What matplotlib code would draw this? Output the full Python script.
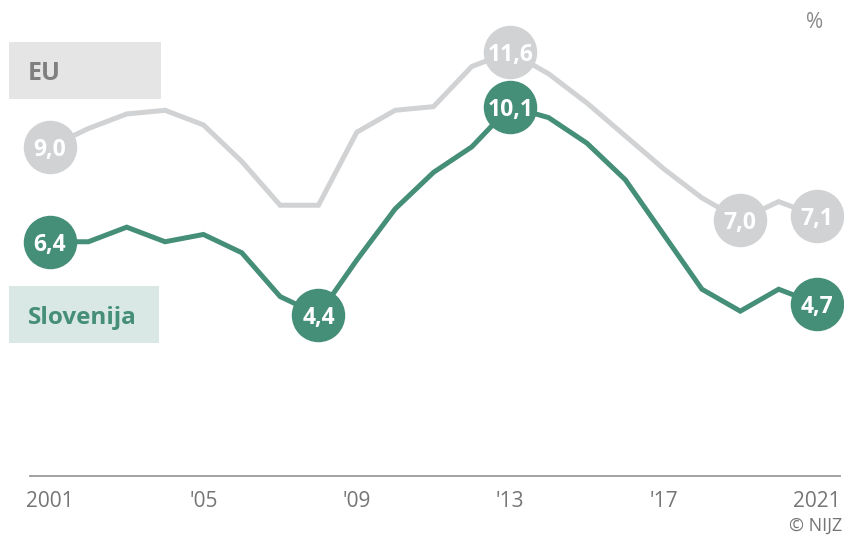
import matplotlib
matplotlib.use("Agg")
import matplotlib.pyplot as plt
from matplotlib.patches import Rectangle

plt.rcParams['font.family'] = ['Open Sans', 'DejaVu Sans']

years = list(range(2001, 2022))
eu = [9.0, 9.5, 9.9, 10.0, 9.6, 8.6, 7.4, 7.4, 9.4, 10.0, 10.1, 11.2, 11.6,
      11.0, 10.2, 9.3, 8.4, 7.6, 7.0, 7.5, 7.1]
slo = [6.4, 6.4, 6.8, 6.4, 6.6, 6.1, 4.9, 4.4, 5.9, 7.3, 8.3, 9.0, 10.1,
       9.8, 9.1, 8.1, 6.6, 5.1, 4.5, 5.1, 4.7]
eu_marked = [2001, 2013, 2019, 2021]
slo_marked = [2001, 2008, 2013, 2021]
tick_years = [2001, 2005, 2009, 2013, 2017, 2021]
tick_labels = ['2001', "'05", "'09", "'13", "'17", '2021']

GREEN = '#458E77'
GREY = '#D1D2D4'

W, H = 845, 536
fig = plt.figure(figsize=(W / 100, H / 100), dpi=100)
ax = fig.add_axes([30 / W, (H - 475.5) / H, 810 / W, 475.5 / H])
ax.set_xlim(2000.478, 2021.60)
ax.set_ylim(0, 13.02)

for s in ['top', 'left', 'right']:
    ax.spines[s].set_visible(False)
ax.spines['bottom'].set_color('#9a9a9a')
ax.spines['bottom'].set_linewidth(1.3)
ax.set_yticks([])
ax.set_xticks(tick_years)
ax.set_xticklabels(tick_labels)
ax.tick_params(axis='x', length=0, pad=11, labelsize=15, labelcolor='#757575')
ax.patch.set_alpha(0)

ax.plot(years, eu, color=GREY, lw=3.6, solid_joinstyle='miter', zorder=2)
ax.plot(years, slo, color=GREEN, lw=3.6, solid_joinstyle='miter', zorder=3)

def mark(series, marked, color, z):
    for yr in marked:
        v = series[years.index(yr)]
        ax.plot([yr], [v], 'o', ms=38.5, color=color, mec='none', zorder=z, clip_on=False)
        ax.text(yr, v, f"{v:.1f}".replace('.', ','), color='white', fontsize=16.5,
                fontweight='bold', ha='center', va='center_baseline', zorder=z + 1)

mark(eu, eu_marked, GREY, 4)
mark(slo, slo_marked, GREEN, 6)

def box(x0, y0, x1, y1, fc):
    fig.patches.append(Rectangle((x0 / W, 1 - y1 / H), (x1 - x0) / W, (y1 - y0) / H,
                                 transform=fig.transFigure, facecolor=fc, edgecolor='none',
                                 zorder=0))

box(9, 42, 161, 99, '#E5E5E5')
fig.text(28 / W, 1 - 71 / H, 'EU', color='#7F7F7F', fontsize=18, fontweight='bold',
         ha='left', va='center_baseline')
box(9, 286, 159, 343, '#D9E8E4')
fig.text(28 / W, 1 - 315 / H, 'Slovenija', color=GREEN, fontsize=17.5, fontweight='bold',
         ha='left', va='center_baseline')

fig.text(815 / W, 1 - 22 / H, '%', color='#8a8a8a', fontsize=15, ha='center', va='center')
fig.text(842 / W, 1 - 526 / H, '© NIJZ', color='#757575', fontsize=13, ha='right', va='center')

fig.savefig('out.png', dpi=100)
